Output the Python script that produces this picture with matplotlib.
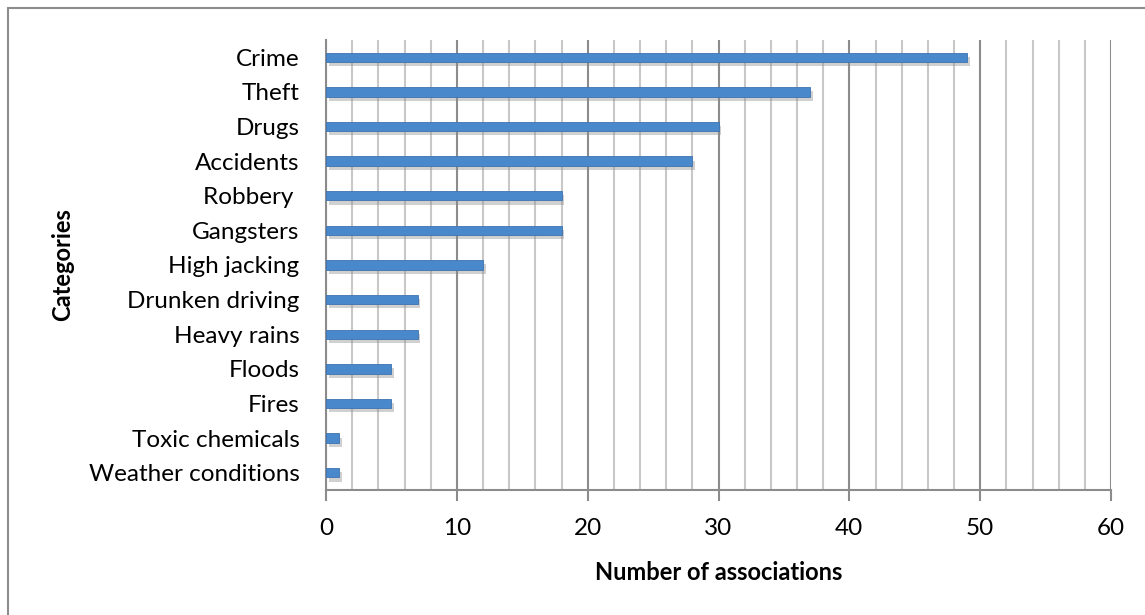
import matplotlib
matplotlib.use("Agg")
import matplotlib.pyplot as plt
import matplotlib.patheffects as pe
from matplotlib.patches import Rectangle
from matplotlib.ticker import MultipleLocator

categories = [
    "Crime", "Theft", "Drugs", "Accidents", "Robbery ", "Gangsters",
    "High jacking", "Drunken driving", "Heavy rains", "Floods", "Fires",
    "Toxic chemicals", "Weather conditions",
]
associations = [49, 37, 30, 28, 18, 18, 12, 7, 7, 5, 5, 1, 1]

plt.rcParams["font.family"] = ["Lato", "DejaVu Sans"]

fig = plt.figure(figsize=(11.45, 6.15), dpi=100)

# outer chart frame
fig.patches.append(Rectangle((8 / 1145, -0.05), 1.1, 1 - 8 / 615 + 0.05,
                             transform=fig.transFigure, fill=False,
                             edgecolor="#8c8c8c", linewidth=1.5))

ax = fig.add_axes([326 / 1145, 1 - 490 / 615, (1111 - 326) / 1145, (490 - 40) / 615])

pos = list(range(len(categories)))[::-1]
shadow = [pe.SimplePatchShadow(offset=(2, -3), shadow_rgbFace="#8a8a8a", alpha=0.4),
          pe.Normal()]
bars = ax.barh(pos, associations, height=0.27, color="#4a88cc",
               edgecolor="#3d74b0", linewidth=0.6, zorder=3)
for b in bars:
    b.set_path_effects(shadow)

ax.set_xlim(0, 60)
ax.set_ylim(-0.5, len(categories) - 0.5)
ax.xaxis.set_major_locator(MultipleLocator(10))
ax.xaxis.set_minor_locator(MultipleLocator(2))
ax.grid(axis="x", which="minor", color="#c8c8c8", linewidth=1.5, zorder=0)
ax.grid(axis="x", which="major", color="#8c8c8c", linewidth=1.5, zorder=1)

ax.set_yticks(pos)
ax.set_yticklabels(categories, fontsize=17.5)
ax.tick_params(axis="y", length=0, pad=19)
ax.tick_params(axis="x", which="major", length=8, width=1.5, color="#8c8c8c",
               labelsize=17.5, pad=12)
ax.tick_params(axis="x", which="minor", length=0)

for side in ["top", "right"]:
    ax.spines[side].set_visible(False)
for side in ["left", "bottom"]:
    ax.spines[side].set_color("#8c8c8c")
    ax.spines[side].set_linewidth(1.5)

ax.set_xlabel("Number of associations", fontsize=17, fontweight="bold", labelpad=16)
fig.text(63 / 1145, 1 - 265 / 615, "Categories", rotation=90, fontsize=17,
         fontweight="bold", ha="center", va="center")

fig.savefig("out.png", dpi=100)
